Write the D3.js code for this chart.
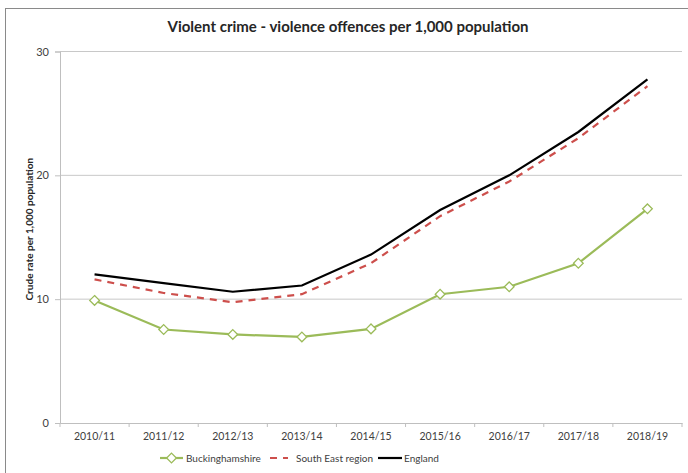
<!DOCTYPE html>
<html>

<head>
    <meta charset='utf-8'>
    <title>Violent crime</title>
    <script type='text/javascript' src='https://cdn.jsdelivr.net/npm/d3@7'></script>
    <style>
        body { margin: 0; background: #fff; }
        text { font-family: Lato, 'Open Sans', sans-serif; fill: #404040; }
    </style>
</head>

<body>
    <svg width='688' height='473'></svg>
    <script type='text/javascript'>
        const years = ['2010/11', '2011/12', '2012/13', '2013/14', '2014/15', '2015/16', '2016/17', '2017/18', '2018/19']
        const bucks = [9.9, 7.55, 7.15, 6.95, 7.6, 10.4, 11.0, 12.9, 17.3]
        const southEast = [11.6, 10.5, 9.75, 10.4, 12.9, 16.7, 19.5, 23.0, 27.2]
        const england = [12.0, 11.3, 10.6, 11.1, 13.6, 17.2, 20.0, 23.5, 27.75]
        const yTicks = [0, 10, 20, 30]

        const svg = d3.select('svg')
        // outer chart frame
        svg.append('rect')
            .attr('x', 5.5).attr('y', 8.5)
            .attr('width', 700).attr('height', 480)
            .attr('fill', 'none').attr('stroke', '#8a8a8a')

        const plotL = 60, plotR = 682, plotT = 51.5, plotB = 423
        const x = d3.scaleBand().domain(years).range([plotL, plotR])
        const y = d3.scaleLinear().domain([0, 30]).range([plotB, plotT])

        // gridlines
        svg.append('g').selectAll('line').data(yTicks.slice(1))
            .enter().append('line')
            .attr('x1', plotL).attr('x2', plotR)
            .attr('y1', d => y(d)).attr('y2', d => y(d))
            .attr('stroke', '#c8c8c8')

        // y axis
        const yAxis = svg.append('g').attr('transform', `translate(${plotL},0)`)
            .call(d3.axisLeft(y).tickValues(yTicks).tickSize(5).tickPadding(6))
        yAxis.select('.domain').attr('stroke', '#bfbfbf')
        yAxis.selectAll('.tick line').attr('stroke', '#bfbfbf')
        yAxis.selectAll('text').attr('font-size', 11).attr('fill', '#404040')
            .attr('font-family', 'Lato, sans-serif')

        // x axis, ticks at band edges
        const xAxis = svg.append('g').attr('transform', `translate(0,${plotB})`)
            .call(d3.axisBottom(x).tickSize(0).tickPadding(10))
        xAxis.select('.domain').attr('stroke', '#bfbfbf')
        xAxis.selectAll('text').attr('font-size', 10.5).attr('fill', '#404040')
            .attr('font-family', 'Lato, sans-serif')
        svg.append('g').selectAll('line').data(years.concat(['end']))
            .enter().append('line')
            .attr('x1', (d, i) => plotL + i * x.step()).attr('x2', (d, i) => plotL + i * x.step())
            .attr('y1', plotB).attr('y2', plotB + 4)
            .attr('stroke', '#bfbfbf')

        // titles
        svg.append('text').attr('x', 348).attr('y', 32)
            .attr('text-anchor', 'middle').attr('font-size', 15).attr('font-weight', 'bold')
            .style('fill', '#262626')
            .text('Violent crime - violence offences per 1,000 population')
        svg.append('text')
            .attr('transform', `translate(33,${(plotT + plotB) / 2 - 8}) rotate(-90)`)
            .attr('text-anchor', 'middle').attr('font-size', 10).attr('font-weight', 'bold')
            .style('fill', '#262626')
            .text('Crude rate per 1,000 population')

        const cx = d => x(d) + x.bandwidth() / 2
        const line = d3.line().x((d, i) => cx(years[i])).y(d => y(d))

        const series = [
            { name: 'Buckinghamshire', values: bucks, color: '#9bbb59', dash: null },
            { name: 'South East region', values: southEast, color: '#cd4f4c', dash: '7,6' },
            { name: 'England', values: england, color: '#000000', dash: null }
        ]

        series.forEach(s => {
            svg.append('path')
                .attr('d', line(s.values))
                .attr('fill', 'none')
                .attr('stroke', s.color)
                .attr('stroke-width', 2.2)
                .attr('stroke-dasharray', s.dash)
        })

        const diamond = d3.symbol().type(d3.symbolDiamond2).size(60)
        svg.append('g').selectAll('path').data(bucks)
            .enter().append('path')
            .attr('d', diamond)
            .attr('transform', (d, i) => `translate(${cx(years[i])},${y(d)})`)
            .attr('fill', '#fff').attr('stroke', '#9bbb59').attr('stroke-width', 1.3)

        // legend
        const ly = 458
        const legendPos = [
            { x1: 160, x2: 183, tx: 186 },
            { x1: 270, x2: 288, tx: 296 },
            { x1: 378, x2: 402, tx: 404 }
        ]
        series.forEach((s, i) => {
            const p = legendPos[i]
            svg.append('line')
                .attr('x1', p.x1).attr('x2', p.x2).attr('y1', ly).attr('y2', ly)
                .attr('stroke', s.color).attr('stroke-width', 2.2)
                .attr('stroke-dasharray', s.dash)
            if (i === 0) {
                svg.append('path').attr('d', diamond)
                    .attr('transform', `translate(${(p.x1 + p.x2) / 2},${ly})`)
                    .attr('fill', '#fff').attr('stroke', s.color).attr('stroke-width', 1.3)
            }
            svg.append('text').attr('x', p.tx).attr('y', ly + 4)
                .attr('font-size', 10).text(s.name)
        })
    </script>
</body>

</html>
